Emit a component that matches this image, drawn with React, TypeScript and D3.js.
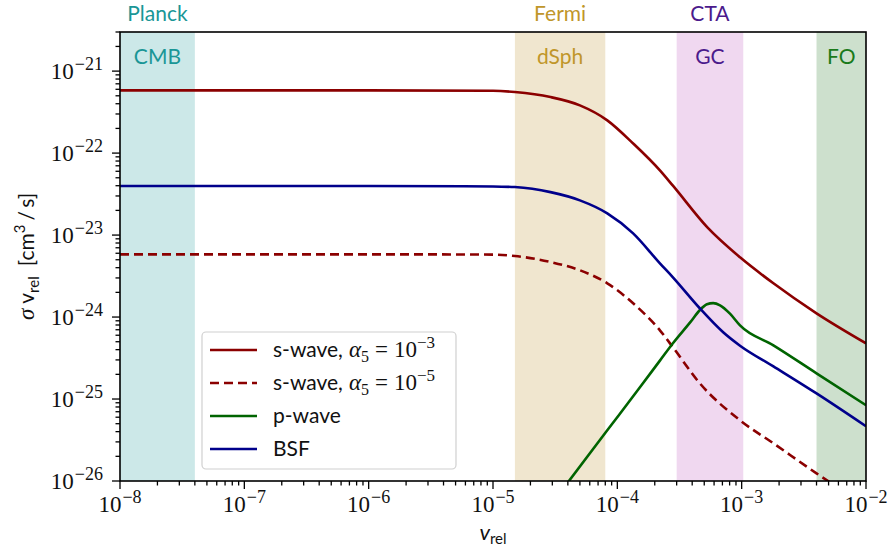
import React from "react";
import * as d3 from "d3";

// --- data: relative velocity v_rel and annihilation rate σ v_rel [cm^3/s] ---
const sWaveHigh: [number, number][] = [
  [1e-8, 5.82e-22], [1e-6, 5.82e-22], [1e-5, 5.75e-22], [1.5e-5, 5.55e-22],
  [2.9e-5, 4.82e-22], [5.0e-5, 3.82e-22], [8.3e-5, 2.51e-22], [1.34e-4, 1.31e-22],
  [2.2e-4, 6.15e-23], [2.8e-4, 4.0e-23], [5.3e-4, 1.24e-23], [9.7e-4, 5.35e-24],
  [1.8e-3, 2.58e-24], [4.0e-3, 1.11e-24], [1e-2, 4.78e-25],
];

const sWaveLow: [number, number][] = [
  [1e-8, 5.82e-24], [1e-6, 5.82e-24], [1e-5, 5.78e-24], [1.5e-5, 5.55e-24],
  [2.9e-5, 4.69e-24], [5.0e-5, 3.72e-24], [8.3e-5, 2.58e-24], [1.34e-4, 1.47e-24],
  [2.2e-4, 6.89e-25], [2.8e-4, 4.28e-25], [4.6e-4, 1.56e-25], [9.7e-4, 5.5e-26],
  [1.8e-3, 2.88e-26], [4.0e-3, 1.24e-26], [1e-2, 5.0e-27],
];

const pWave: [number, number][] = [
  [3.0e-5, 5.4e-27], [8.3e-5, 4.15e-26], [1.52e-4, 1.39e-25], [2.2e-4, 2.94e-25],
  [2.8e-4, 4.79e-25], [3.85e-4, 8.6e-25], [4.6e-4, 1.21e-24], [5.26e-4, 1.43e-24],
  [5.9e-4, 1.48e-24], [6.7e-4, 1.39e-24], [8.05e-4, 1.1e-24], [9.7e-4, 7.9e-25],
  [1.8e-3, 4.52e-25], [4.0e-3, 2.06e-25], [1e-2, 8.4e-26],
];

const bsf: [number, number][] = [
  [1e-8, 3.96e-23], [1e-6, 3.96e-23], [1e-5, 3.92e-23], [1.5e-5, 3.85e-23],
  [2.9e-5, 3.34e-23], [5.0e-5, 2.65e-23], [8.3e-5, 1.84e-23], [1.34e-4, 1.05e-23],
  [2.2e-4, 4.52e-24], [2.8e-4, 3.05e-24], [4.6e-4, 1.28e-24], [7.1e-4, 6.52e-25],
  [9.7e-4, 4.47e-25], [1.8e-3, 2.5e-25], [4.0e-3, 1.17e-25], [1e-2, 4.65e-26],
];

// observational velocity ranges
const bandNames = ["CMB", "dSph", "GC", "FO"];
const bandExperiments = ["Planck", "Fermi", "CTA", ""];
const bandRanges: [number, number][] = [[1e-8, 4e-8], [1.5e-5, 8e-5], [3e-4, 1.03e-3], [4e-3, 1e-2]];
const bandFills = ["#cce8e8", "#f0e6cf", "#f0d8f0", "#cde0cd"];
const bandTextColors = ["#1a9696", "#c0962a", "#4b1a8c", "#1a7a1a"];

const xExponents = [-8, -7, -6, -5, -4, -3, -2];
const yExponents = [-26, -25, -24, -23, -22, -21];

const W = 893;
const H = 556;
const M = { left: 120, right: 27, top: 32, bottom: 75 };

const SERIF = "'Liberation Serif', 'DejaVu Serif', serif";
const SANS = "Lato, 'Noto Sans', 'DejaVu Sans', sans-serif";

export default function App() {
  const x = d3.scaleLog().domain([1e-8, 1e-2]).range([M.left, W - M.right]);
  const y = d3.scaleLog().domain([1e-26, 3e-21]).range([H - M.bottom, M.top]);

  const line = d3
    .line<[number, number]>()
    .x((d) => x(d[0]))
    .y((d) => y(d[1]))
    .curve(d3.curveMonotoneX);

  const [x0, x1] = x.range();
  const [y0, y1] = y.range(); // y0 bottom, y1 top

  // minor tick positions (2..9 per decade)
  const xMinor: number[] = [];
  for (let e = -8; e < -2; e++) for (let k = 2; k <= 9; k++) xMinor.push(k * Math.pow(10, e));
  const yMinor: number[] = [];
  for (let e = -26; e <= -21; e++)
    for (let k = 2; k <= 9; k++) {
      const v = k * Math.pow(10, e);
      if (v <= 3.0001e-21) yMinor.push(v);
    }

  const series = [
    { data: sWaveHigh, color: "#8b0000", dash: undefined as string | undefined },
    { data: sWaveLow, color: "#8b0000", dash: "9,5" },
    { data: pWave, color: "#006400", dash: undefined },
    { data: bsf, color: "#00008b", dash: undefined },
  ];

  const legendRows = [350, 383, 416, 449];

  return (
    <svg width={W} height={H} style={{ position: "absolute", left: 0, top: 0, background: "#fff" }}>
      <defs>
        <clipPath id="plotArea">
          <rect x={x0} y={y1} width={x1 - x0} height={y0 - y1} />
        </clipPath>
      </defs>

      {/* velocity bands */}
      {bandRanges.map((r, i) => (
        <rect key={"band" + i} x={x(r[0])} y={y1} width={x(r[1]) - x(r[0])} height={y0 - y1} fill={bandFills[i]} />
      ))}
      {bandRanges.map((r, i) => {
        const cx = (x(r[0]) + x(r[1])) / 2;
        return (
          <g key={"bl" + i} fontFamily={SANS} fontSize={21} fill={bandTextColors[i]} textAnchor="middle">
            {bandExperiments[i] && <text x={cx} y={21}>{bandExperiments[i]}</text>}
            <text x={cx} y={64}>{bandNames[i]}</text>
          </g>
        );
      })}

      {/* curves */}
      <g clipPath="url(#plotArea)">
        {series.map((s, i) => (
          <path
            key={"s" + i}
            d={line(s.data) || ""}
            fill="none"
            stroke={s.color}
            strokeWidth={2.6}
            strokeDasharray={s.dash}
          />
        ))}
      </g>

      {/* legend */}
      <g>
        <rect x={202} y={332} width={254} height={137} rx={4} fill="#fff" fillOpacity={0.8} stroke="#d0d0d0" strokeWidth={1.2} />
        {series.map((s, i) => (
          <line key={"ll" + i} x1={210} x2={257} y1={legendRows[i]} y2={legendRows[i]} stroke={s.color} strokeWidth={2.6} strokeDasharray={s.dash} />
        ))}
        {[0, 1].map((i) => (
          <text key={"lt" + i} x={273} y={legendRows[i] + 7} fontSize={21} fill="#111">
            <tspan fontFamily={SANS}>s-wave,</tspan>
            <tspan fontFamily={SERIF} fontStyle="italic" fontSize={23} dx={6}>α</tspan>
            <tspan fontFamily={SERIF} fontSize={16} dy={5}>5</tspan>
            <tspan fontFamily={SERIF} fontSize={23} dy={-5} dx={6}>=</tspan>
            <tspan fontFamily={SERIF} fontSize={23} dx={6}>10</tspan>
            <tspan fontFamily={SERIF} fontSize={17} dy={-9}>{i === 0 ? "−3" : "−5"}</tspan>
          </text>
        ))}
        <text x={273} y={legendRows[2] + 7} fontSize={21} fontFamily={SANS} fill="#111">p-wave</text>
        <text x={273} y={legendRows[3] + 7} fontSize={21} fontFamily={SANS} fill="#111">BSF</text>
      </g>

      {/* axes frame */}
      <rect x={x0} y={y1} width={x1 - x0} height={y0 - y1} fill="none" stroke="#000" strokeWidth={1.6} />

      {/* ticks */}
      <g stroke="#000" strokeWidth={1.3}>
        {xExponents.map((e) => (
          <line key={"xM" + e} x1={x(Math.pow(10, e))} x2={x(Math.pow(10, e))} y1={y0} y2={y0 + 8} />
        ))}
        {xMinor.map((v, i) => (
          <line key={"xm" + i} x1={x(v)} x2={x(v)} y1={y0} y2={y0 + 4.5} />
        ))}
        {yExponents.map((e) => (
          <line key={"yM" + e} x1={x0 - 8} x2={x0} y1={y(Math.pow(10, e))} y2={y(Math.pow(10, e))} />
        ))}
        {yMinor.map((v, i) => (
          <line key={"ym" + i} x1={x0 - 4.5} x2={x0} y1={y(v)} y2={y(v)} />
        ))}
      </g>

      {/* tick labels */}
      <g fontFamily={SERIF} fill="#111">
        {xExponents.map((e) => (
          <text key={"xl" + e} x={x(Math.pow(10, e))} y={y0 + 31} textAnchor="middle" fontSize={23}>
            10<tspan fontSize={18} dy={-9} dx={1}>{"−" + Math.abs(e)}</tspan>
          </text>
        ))}
        {yExponents.map((e) => (
          <text key={"yl" + e} x={103} y={y(Math.pow(10, e)) + 8} textAnchor="end" fontSize={23}>
            10<tspan fontSize={18} dy={-9} dx={1}>{"−" + Math.abs(e)}</tspan>
          </text>
        ))}
      </g>

      {/* axis titles */}
      <text x={(x0 + x1) / 2} y={540} textAnchor="middle" fontFamily={SANS} fontSize={22} fill="#111">
        <tspan fontStyle="italic">v</tspan>
        <tspan fontSize={15} dy={4}>rel</tspan>
      </text>
      <text transform={`translate(34, ${(y0 + y1) / 2}) rotate(-90)`} textAnchor="middle" fontFamily={SANS} fontSize={21} fill="#111">
        <tspan fontFamily={SERIF} fontStyle="italic" fontSize={23}>σ</tspan>
        <tspan dx={5}>v</tspan>
        <tspan fontSize={15} dy={5}>rel</tspan>
        <tspan dy={-5} dx={10}>[cm</tspan>
        <tspan fontSize={15} dy={-9}>3</tspan>
        <tspan dy={9} dx={4}>/</tspan>
        <tspan dx={4}>s]</tspan>
      </text>
    </svg>
  );
}
